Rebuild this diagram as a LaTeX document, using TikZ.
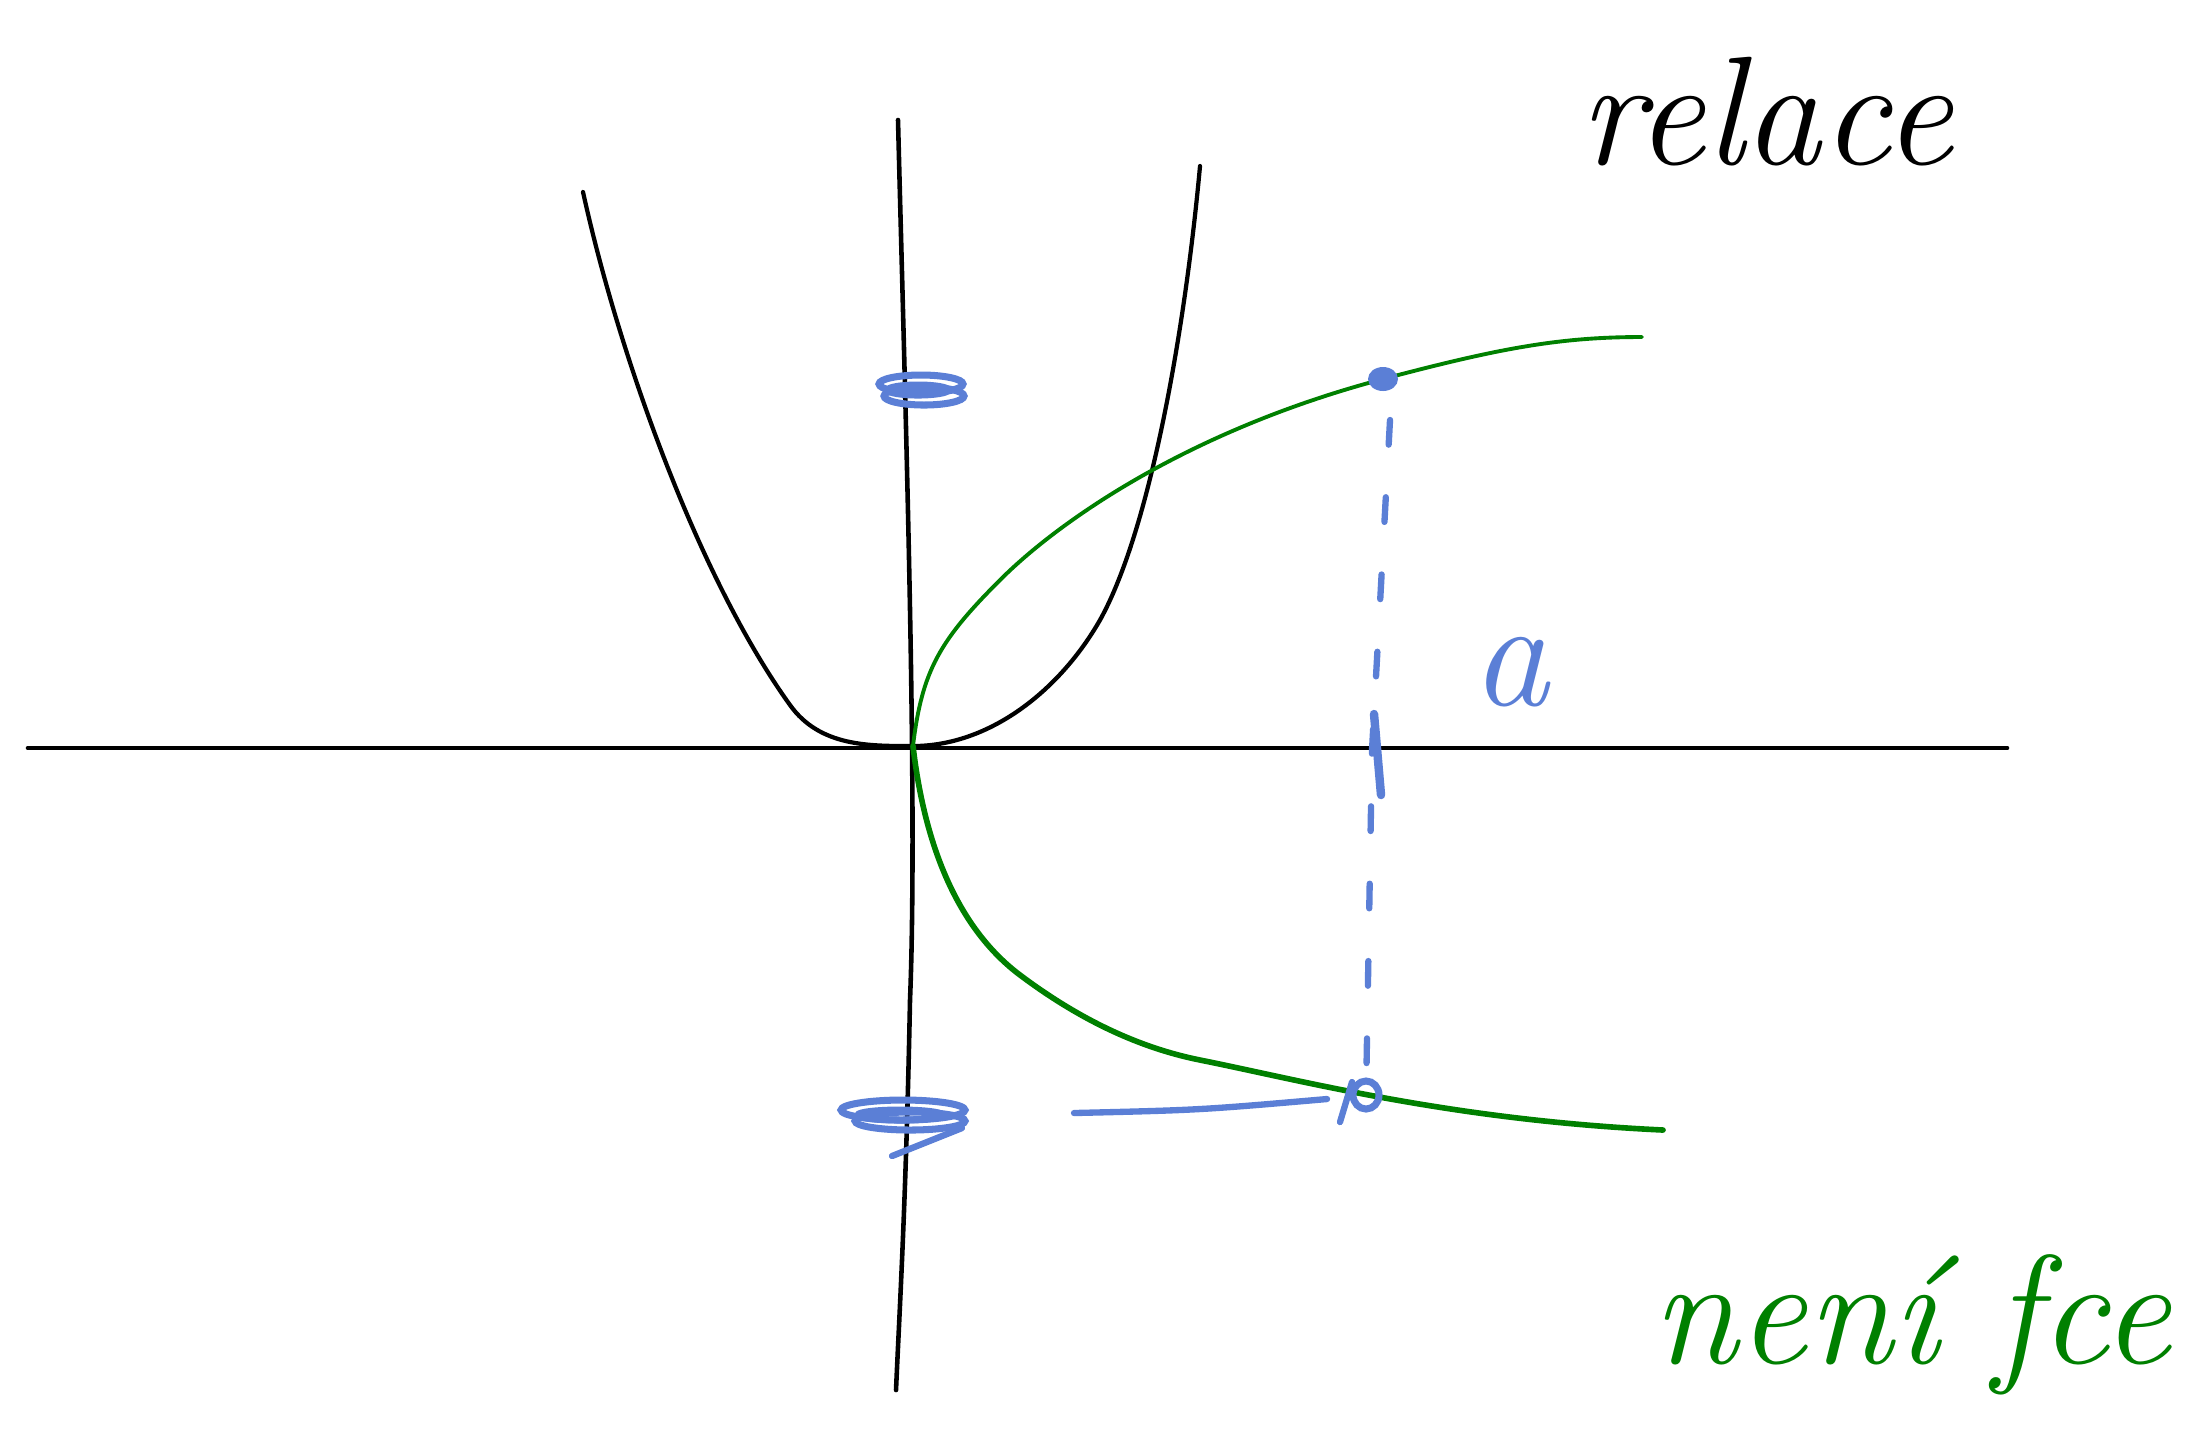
\documentclass[tikz,border=0pt]{standalone}
\usepackage{tikz}
\usetikzlibrary{positioning}

\definecolor{inkblue}{RGB}{91,127,214}
\definecolor{inkgreen}{RGB}{0,128,0}

\begin{document}
\begin{tikzpicture}[
        x=0.01cm,
        y=-0.01cm,
        axis/.style={
            black,
            line width=1.3pt,
            line cap=round
        },
        curve/.style={
            black,
            line width=1.2pt,
            line cap=round
        },
        rel/.style={
            inkgreen,
            line width=1.1pt,
            line cap=round
        },
        scribble/.style={
            inkblue,
            line width=2pt
        },
        helper/.style={
            inkblue,
            line width=1.8pt,
            line cap=round
        },
        title/.style={
            font=\fontsize{44}{50}\selectfont\itshape,
            inner sep=0pt
        }
    ]

    \useasboundingbox (0,0) rectangle (2201,1438);

    % key points
    \coordinate (origin) at (913,746);
    \coordinate (top) at (1383,379);
    \coordinate (bottom) at (1366,1095);
    \coordinate (from) at (1074,1113);

    % axes
    \draw[axis] (28,748) -- (2007,748);
    \draw[axis] (898,120) .. controls (905,400) and (918,800) .. (910,1000) .. controls (906,1200) and (900,1300) .. (896,1390);

    % parabola
    \draw[curve] (583,192) .. controls (620,360) and (700,580) .. (790,705)
        .. controls (820,747) and (870,746) .. (origin)
        .. controls (990,746) and (1060,690) .. (1100,620)
        .. controls (1150,530) and (1185,330) .. (1200,166);

    % sideways parabola
    \draw[rel] (origin) .. controls (922,670) and (940,640) .. (1000,580)
        .. controls (1060,520) and (1190,430) .. (top)
        .. controls (1500,348) and (1560,337) .. (1642,337);
    \draw[rel, line width=1.6pt] (origin) .. controls (925,850) and (960,930) .. (1020,975)
        .. controls (1080,1020) and (1140,1048) .. (1200,1060)
        .. controls (1300,1080) and (1450,1120) .. (1663,1130);

    % scribbles on the y axis
    \draw[scribble] (921,384) ellipse [x radius=42, y radius=9];
    \draw[scribble] (924,396) ellipse [x radius=40, y radius=9];
    \draw[scribble] (918,390) ellipse [x radius=30, y radius=5];
    \draw[scribble] (903,1110) ellipse [x radius=62, y radius=10];
    \draw[scribble] (910,1121) ellipse [x radius=55, y radius=9];
    \draw[scribble] (900,1115) ellipse [x radius=42, y radius=5];
    \draw[helper] (962,1128) -- (892,1156);

    % points on the curve
    \fill[inkblue] (top) ellipse [x radius=15, y radius=12];
    \draw[scribble] (bottom) ellipse [x radius=13, y radius=14];
    \draw[helper] (1352,1082) -- (1340,1122);

    % dashed vertical
    \draw[helper, dash pattern=on 7pt off 15pt] (1390,420) -- (1372,750) -- (bottom);
    \draw[helper, line width=2.4pt] (1374,714) -- (1381,795);

    % horizontal from the scribble
    \draw[helper] (from) .. controls (1200,1110) .. (1327,1099);

    % labels
    \node[title, inkblue] (a) at (1510,672) {a};
    \node[title] (relace) at (1766,112) {relace};
    \node[title, inkgreen] (nenifce) at (1912,1325) {není fce};

\end{tikzpicture}
\end{document}
